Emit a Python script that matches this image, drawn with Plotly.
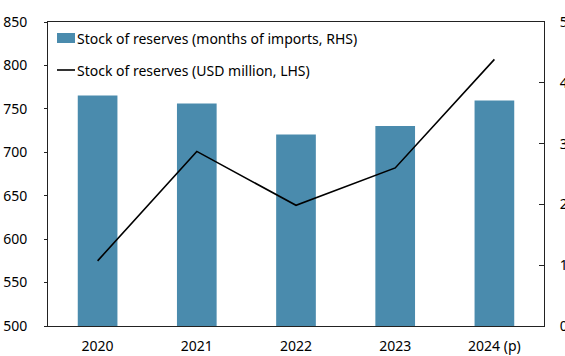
import plotly.graph_objects as go

# Reserve data
years = ["2020", "2021", "2022", "2023", "2024 (p)"]
reserves_months = [3.79, 3.66, 3.15, 3.29, 3.71]      # months of imports (RHS)
reserves_usd = [575, 701, 639, 682, 807]               # USD million (LHS)

left_ticks = [500, 550, 600, 650, 700, 750, 800, 850]
right_ticks = [0, 1, 2, 3, 4, 5]

bar_name = "Stock of reserves (months of imports, RHS)"
line_name = "Stock of reserves (USD million, LHS)"

bar_color = "#4a8bad"
font_family = "Noto Sans, Open Sans, sans-serif"
axis_color = "#222222"

W, H = 565, 356
ML, MR, MT, MB = 48, 21, 22, 30
PW, PH = W - ML - MR, H - MT - MB


def px_x(px):
    return (px - ML) / PW


def px_y(py):
    return (H - MB - py) / PH


fig = go.Figure()

# Bars sit on the base axis (right side), the line on an overlaying axis so it draws on top
fig.add_trace(go.Bar(
    x=years, y=reserves_months, yaxis="y",
    name=bar_name,
    marker=dict(color=bar_color, line=dict(width=0)),
))

fig.add_trace(go.Scatter(
    x=years, y=reserves_usd, yaxis="y2",
    mode="lines",
    name=line_name,
    line=dict(color="black", width=1.6),
))

# Hand-drawn legend in the upper-left corner of the plot
legend_font = dict(family=font_family, size=14, color="black")
shapes = [
    dict(type="rect", xref="paper", yref="paper",
         x0=px_x(57), x1=px_x(75), y0=px_y(43), y1=px_y(33),
         fillcolor=bar_color, line=dict(width=0), layer="above"),
    dict(type="line", xref="paper", yref="paper",
         x0=px_x(57), x1=px_x(75), y0=px_y(70), y1=px_y(70),
         line=dict(color="black", width=1.6), layer="above"),
]
annotations = [
    dict(text=bar_name, xref="paper", yref="paper",
         x=px_x(75), y=px_y(38), xanchor="left", yanchor="middle",
         showarrow=False, font=legend_font),
    dict(text=line_name, xref="paper", yref="paper",
         x=px_x(75), y=px_y(70), xanchor="left", yanchor="middle",
         showarrow=False, font=legend_font),
]

fig.update_layout(
    width=W, height=H,
    margin=dict(l=ML, r=MR, t=MT, b=MB),
    paper_bgcolor="white", plot_bgcolor="white",
    font=dict(family=font_family, size=14, color="black"),
    bargap=0.6,
    showlegend=False,
    shapes=shapes,
    annotations=annotations,
    xaxis=dict(
        type="category", automargin=False,
        showline=True, linecolor=axis_color, linewidth=1, mirror=True,
        ticks="", ticklabelstandoff=7,
        tickfont=dict(size=14),
    ),
    yaxis=dict(
        range=[0, 5], tickvals=right_ticks, side="right", automargin=False,
        showline=True, linecolor=axis_color, linewidth=1,
        ticks="inside", ticklen=5, tickcolor=axis_color,
        showgrid=False, zeroline=False,
        ticklabelstandoff=12,
        tickfont=dict(size=14),
    ),
    yaxis2=dict(
        range=[500, 850], tickvals=left_ticks,
        overlaying="y", side="left", automargin=False,
        showline=True, linecolor=axis_color, linewidth=1,
        ticks="outside", ticklen=3, tickcolor=axis_color,
        showgrid=False, zeroline=False,
        ticklabelstandoff=14,
        tickfont=dict(size=14),
    ),
)

fig.write_html("out.html")
